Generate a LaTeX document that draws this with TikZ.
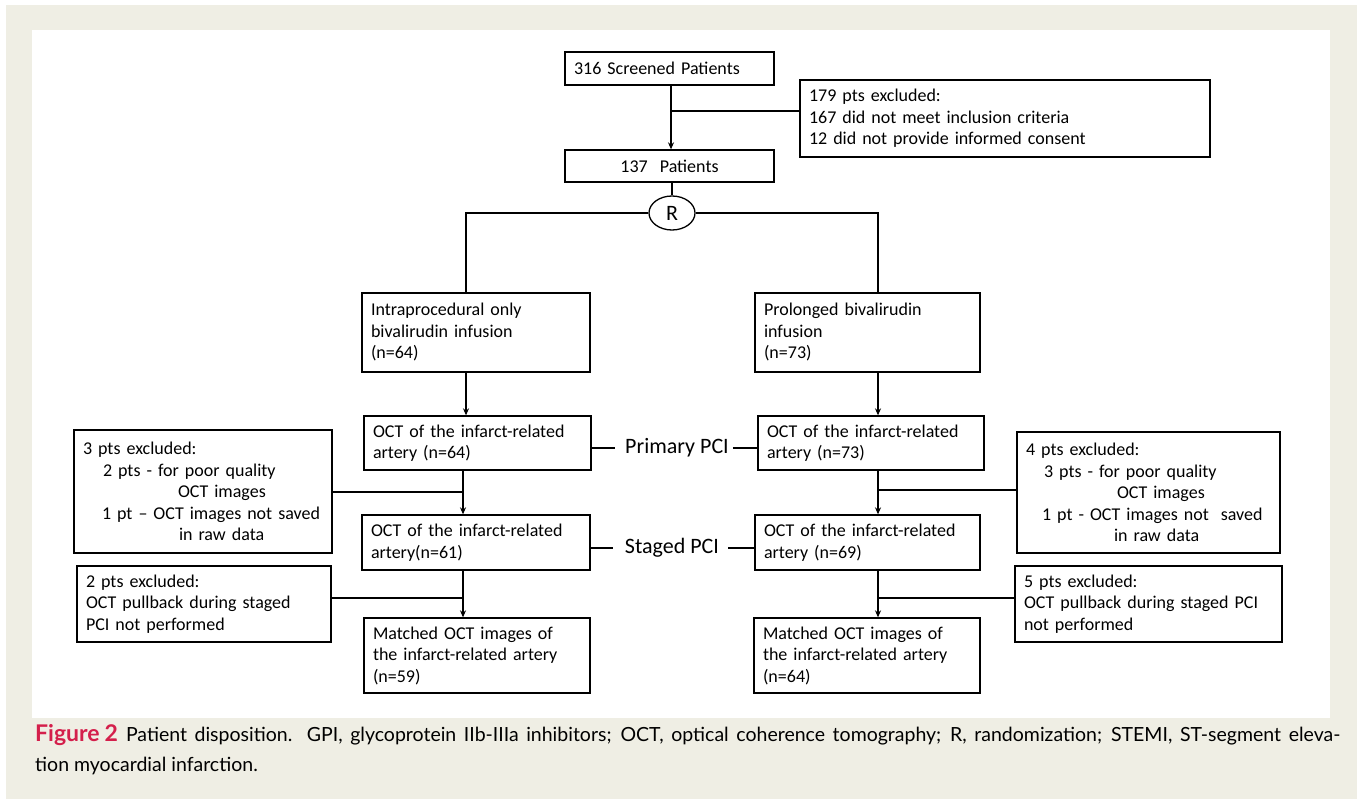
\documentclass[tikz,border=0pt]{standalone}
\usepackage{fontspec}
\setmainfont{Carlito}
\newfontfamily\capfont{Lato}
\usetikzlibrary{arrows.meta,shapes.geometric}
\definecolor{beige}{HTML}{EFEEE4}
\definecolor{figred}{HTML}{D41F4B}
\tikzset{
  bx/.style={draw=black, line width=1.3pt, font=\fontsize{18}{21.5}\selectfont, inner xsep=9pt, inner ysep=0pt, align=left},
  conn/.style={line width=1.3pt},
  arr/.style={line width=1.3pt, -{Stealth[length=7pt,width=6pt]}},
  pcilabel/.style={font=\fontsize{22}{24}\selectfont, inner sep=0pt},
}
% box: name, x1, y1, x2, y2, text
\newcommand{\mybox}[6]{%
  \pgfmathsetmacro{\bw}{#4-#2}%
  \pgfmathsetmacro{\bh}{#5-#3}%
  \pgfmathsetmacro{\tw}{#4-#2-18}%
  \node[bx, minimum width=\bw pt, minimum height=\bh pt, text width=\tw pt] (#1) at ({(#2+#4)/2},{(#3+#5)/2}) {#6};%
}
\begin{document}
\begin{tikzpicture}[x=1pt,y=-1pt]
\useasboundingbox (0,0) rectangle (1357,799);
\fill[white] (0,0) rectangle (1357,799);
\fill[beige] (6,5) rectangle (1357,799);
\fill[white] (32,30) rectangle (1330,718);

\mybox{s316}{565}{52}{774}{85}{316 Screened Patients}
\mybox{ex179}{800}{80}{1210}{157}{179 pts excluded:\\167 did not meet inclusion criteria\\12 did not provide informed consent}
\node[bx, minimum width=209pt, minimum height=32pt, text width=191pt, align=center] (p137) at (669.5,166) {137\ \ Patients};
\node[draw=black, line width=1.3pt, ellipse, minimum width=46pt, minimum height=34pt, inner sep=0pt, font=\fontsize{22}{24}\selectfont] (R) at (672,213) {R};

\mybox{intra}{362}{293}{590}{372}{Intraprocedural only\\bivalirudin infusion\\(n=64)}
\mybox{prol}{755}{293}{980}{372}{Prolonged bivalirudin\\infusion\\(n=73)}

\mybox{octLa}{364}{416}{591}{470}{OCT of the infarct-related\\artery (n=64)}
\mybox{octRa}{758}{416}{984}{470}{OCT of the infarct-related\\artery (n=73)}

\mybox{octLb}{362}{515}{590}{570}{OCT of the infarct-related\\artery(n=61)}
\mybox{octRb}{755}{515}{980}{570}{OCT of the infarct-related\\artery (n=69)}

\mybox{matL}{364}{618}{590}{693}{Matched OCT images of\\the infarct-related artery\\(n=59)}
\mybox{matR}{754}{618}{980}{693}{Matched OCT images of\\the infarct-related artery\\(n=64)}

\mybox{exL3}{74}{430}{332}{553}{3 pts excluded:\\\hspace*{20pt}2 pts - for poor quality\\\hspace*{95pt}OCT images\\\hspace*{19pt}1 pt -- OCT images not saved\\\hspace*{96pt}in raw data}
\mybox{exR4}{1017}{432}{1280}{553}{4 pts excluded:\\\hspace*{18pt}3 pts - for poor quality\\\hspace*{91pt}OCT images\\\hspace*{16pt}1 pt - OCT images not\ \ saved\\\hspace*{88pt}in raw data}
\mybox{exL2}{77}{566}{331}{642}{2 pts excluded:\\OCT pullback during staged\\PCI not performed}
\mybox{exR5}{1015}{566}{1282}{642}{5 pts excluded:\\OCT pullback during staged PCI\\not performed}

\node[pcilabel] (pci1) at (677,448) {Primary PCI};
\node[pcilabel] (pci2) at (672,548) {Staged PCI};

% trunk coordinates
\coordinate (tc) at (671,0);
\coordinate (tlA) at (466,0);
\coordinate (tlB) at (463,0);
\coordinate (trA) at (878,0);
\coordinate (trB) at (878,0);

% top
\draw[arr] (s316.south -| tc) -- (p137.north -| tc);
\draw[conn] (ex179.west |- 0,111) -- (tc |- 0,111);
\draw[conn] (p137.south -| R.north) -- (R.north);
\draw[conn] (R.west) -| (intra.north -| tlA);
\draw[conn] (R.east) -| (prol.north -| trA);

% left column
\draw[arr] (intra.south -| tlA) -- (octLa.north -| tlA);
\draw[arr] (octLa.south -| tlB) -- (octLb.north -| tlB);
\draw[conn] (exL3.east |- 0,492) -- (tlB |- 0,492);
\draw[arr] (octLb.south -| tlB) -- (matL.north -| tlB);
\draw[conn] (exL2.east |- 0,598) -- (tlB |- 0,598);

% right column
\draw[arr] (prol.south -| trA) -- (octRa.north -| trA);
\draw[arr] (octRa.south -| trB) -- (octRb.north -| trB);
\draw[conn] (exR4.west |- 0,490) -- (trB |- 0,490);
\draw[arr] (octRb.south -| trB) -- (matR.north -| trB);
\draw[conn] (exR5.west |- 0,598) -- (trB |- 0,598);

% PCI labels
\draw[conn] (octLa.east |- pci1) -- ([xshift=-10pt]pci1.west);
\draw[conn] ([xshift=4pt]pci1.east) -- (octRa.west |- pci1);
\draw[conn] (octLb.east |- pci2) -- ([xshift=-12pt]pci2.west);
\draw[conn] ([xshift=9pt]pci2.east) -- (octRb.west |- pci2);

% caption
\node[anchor=north west, inner sep=0pt, text width=1305pt, align=justify, font=\capfont\fontsize{19.5}{30}\selectfont] (cap) at (35,724) {{\fontsize{23}{30}\selectfont\bfseries\color{figred}Figure\hspace{5pt}2}\hspace{8pt}Patient disposition. GPI, glycoprotein IIb-IIIa inhibitors; OCT, optical coherence tomography; R, randomization; STEMI, ST-segment eleva-\linebreak tion myocardial infarction.};
\end{tikzpicture}
\end{document}
